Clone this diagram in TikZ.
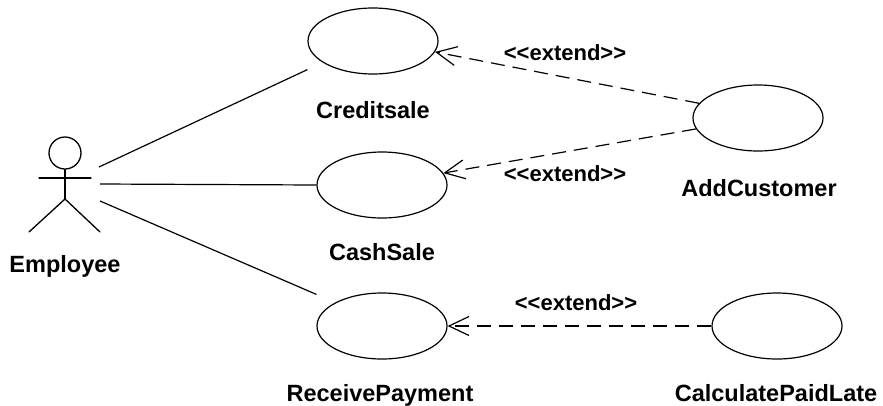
\documentclass[tikz,border=0pt]{standalone}
\usepackage{fontspec}
\setmainfont{Liberation Sans}
\usetikzlibrary{shapes.geometric,arrows.meta,calc}
\begin{document}
\begin{tikzpicture}[x=1pt,y=-1pt,
  usecase/.style={draw,ellipse,line width=1.2pt,minimum width=130pt,minimum height=66pt,inner sep=0pt},
  uclabel/.style={anchor=base,inner sep=0pt,font=\fontsize{23.5}{28}\selectfont\bfseries},
  extlabel/.style={anchor=base,inner sep=0pt,font=\fontsize{22}{26}\selectfont\bfseries},
  assoc/.style={line width=1.2pt},
  extendline/.style={line width=1.2pt,dash pattern=on 14pt off 8pt,-{Straight Barb[length=20pt,width=19pt,line width=1.2pt]}},
  actorline/.style={line width=1.3pt,line cap=round}]
\useasboundingbox (0,0) rectangle (883,405);
% use cases
\node[usecase] (cs1) at (373,41) {};
\node[usecase] (cs2) at (382,185) {};
\node[usecase] (rp) at (382,326) {};
\node[usecase] (ac) at (758,118) {};
\node[usecase] (cpl) at (777,326) {};
% labels
\node[uclabel] (l1) at (373,118) {Creditsale};
\node[uclabel] (l2) at (382,260) {CashSale};
\node[uclabel] (l3) at (380,401) {ReceivePayment};
\node[uclabel] (l4) at (759,196) {AddCustomer};
\node[uclabel] (l5) at (776,401) {CalculatePaidLate};
% actor
\node[draw,circle,line width=1.3pt,minimum size=32pt,inner sep=0pt] (head) at (65,153) {};
\coordinate (hip) at (65,199);
\coordinate (armL) at (39,178);
\coordinate (armR) at (91,178);
\coordinate (legL) at (29,232);
\coordinate (legR) at (100,232);
\draw[actorline] (head.south) -- (hip);
\draw[actorline] (armL) -- (armR);
\draw[actorline] (legL) -- (hip) -- (legR);
\node[uclabel] (emp) at (65,272) {Employee};
% associations
\coordinate (a1) at (99,167);
\coordinate (a2) at (100,184);
\coordinate (a3) at (100,201);
\draw[assoc] (a1) -- ($(cs1.west |- cs1.south)+(0,-5)$);
\draw[assoc] (a2) -- (cs2.west);
\draw[assoc] (a3) -- ($(rp.west |- rp.north)+(0,2)$);
% extends
\draw[extendline] (ac.166) -- (cs1.-10);
\draw[extendline] (ac.190) -- (cs2.11);
\draw[extendline] (cpl.west) -- (rp.east);
\node[extlabel] (e1) at (565,60) {<{}<extend>{}>};
\node[extlabel] (e2) at (565,181) {<{}<extend>{}>};
\node[extlabel] (e3) at (576,310) {<{}<extend>{}>};
\end{tikzpicture}
\end{document}
